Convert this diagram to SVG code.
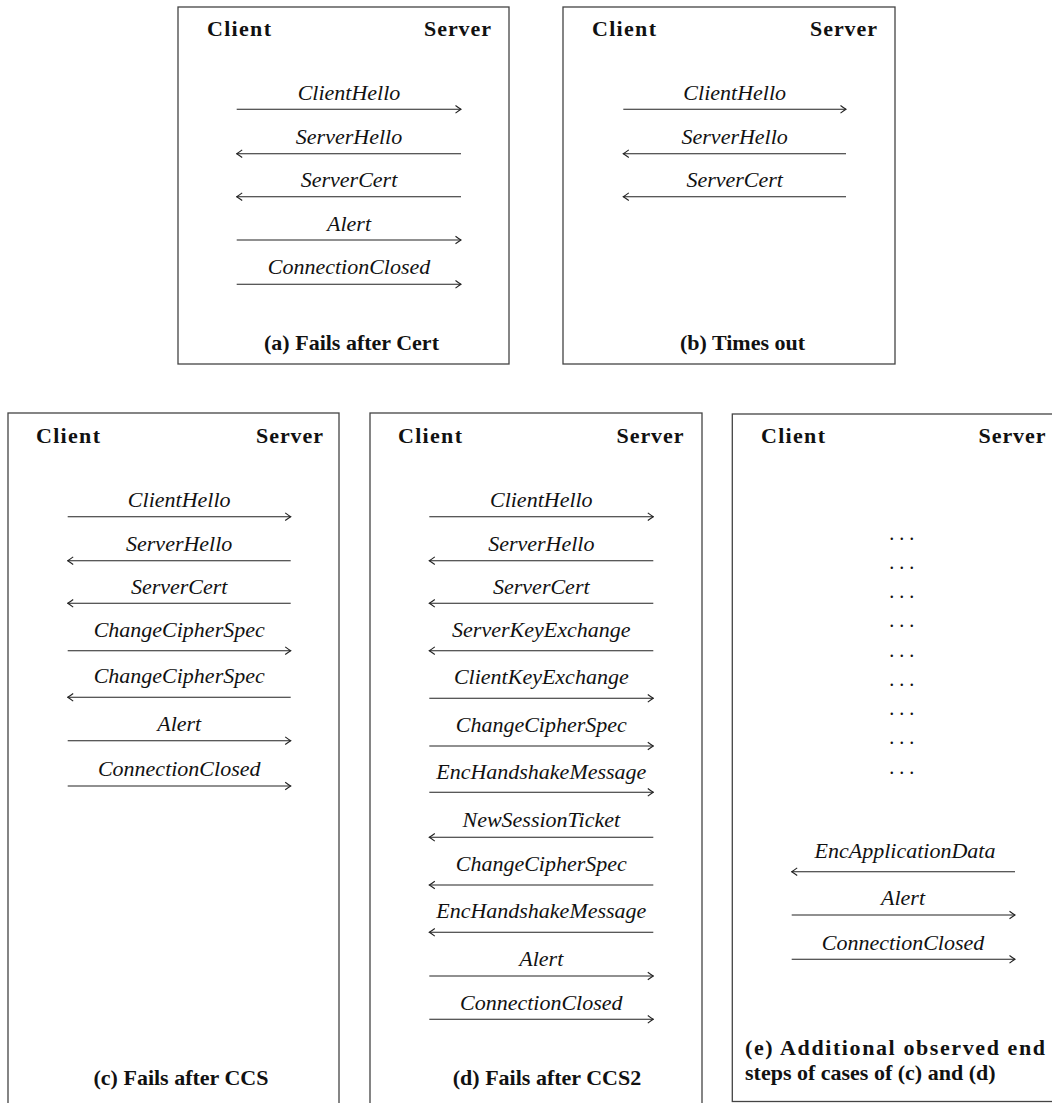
<svg xmlns="http://www.w3.org/2000/svg" width="1052" height="1103" viewBox="0 0 1052 1103">
<style>
text{font-family:'Liberation Serif','Times New Roman','DejaVu Serif',serif}
.box{fill:none;stroke:#444;stroke-width:1.3}
.hd{font-weight:bold;font-size:22px;fill:#111}
.cap{font-weight:bold;font-size:22px;fill:#111;text-anchor:middle}
.capl{font-weight:bold;font-size:22px;fill:#111}
.lbl{font-style:italic;font-size:22px;fill:#111;text-anchor:middle}
.msg{stroke:#222;stroke-width:1.1;fill:none;marker-end:url(#arr)}
.dots{font-size:20px;fill:#111;text-anchor:middle}
</style>
<defs>
<marker id="arr" markerUnits="userSpaceOnUse" viewBox="-7 -5 8 10" refX="0" refY="0" markerWidth="8" markerHeight="10" orient="auto">
<path d="M -5.5 -3.8 Q -1.8 -1 0 0 Q -1.8 1 -5.5 3.8" fill="none" stroke="#222" stroke-width="1.1"/>
</marker>
</defs>
<rect width="1052" height="1103" fill="#fff"/>

<g id="panel-a">
<rect class="box" x="178" y="7" width="331" height="357"/>
<text class="hd" x="207" y="35.5" textLength="64" lengthAdjust="spacing">Client</text>
<text class="hd" x="424" y="35.5" textLength="67" lengthAdjust="spacing">Server</text>
<text class="cap" x="351.5" y="350">(a) Fails after Cert</text>
</g>

<g id="panel-b">
<rect class="box" x="563" y="7" width="332" height="357"/>
<text class="hd" x="592" y="35.5" textLength="64" lengthAdjust="spacing">Client</text>
<text class="hd" x="810" y="35.5" textLength="67" lengthAdjust="spacing">Server</text>
<text class="cap" x="742.5" y="350">(b) Times out</text>
</g>

<g id="panel-c">
<rect class="box" x="8" y="413" width="331" height="720"/>
<text class="hd" x="36" y="443" textLength="64" lengthAdjust="spacing">Client</text>
<text class="hd" x="256" y="443" textLength="67" lengthAdjust="spacing">Server</text>
<text class="cap" x="181" y="1085">(c) Fails after CCS</text>
</g>

<g id="panel-d">
<rect class="box" x="370" y="413" width="332" height="720"/>
<text class="hd" x="398" y="443" textLength="64" lengthAdjust="spacing">Client</text>
<text class="hd" x="616.5" y="443" textLength="67" lengthAdjust="spacing">Server</text>
<text class="cap" x="547" y="1085">(d) Fails after CCS2</text>
</g>

<g id="panel-e">
<rect class="box" x="732.3" y="414" width="340" height="687.5"/>
<text class="hd" x="761" y="443" textLength="64" lengthAdjust="spacing">Client</text>
<text class="hd" x="978.5" y="443" textLength="67" lengthAdjust="spacing">Server</text>
<text class="dots" x="901.7" y="540">. . .</text>
<text class="dots" x="901.7" y="569">. . .</text>
<text class="dots" x="901.7" y="598">. . .</text>
<text class="dots" x="901.7" y="627">. . .</text>
<text class="dots" x="901.7" y="657">. . .</text>
<text class="dots" x="901.7" y="686">. . .</text>
<text class="dots" x="901.7" y="715">. . .</text>
<text class="dots" x="901.7" y="744">. . .</text>
<text class="dots" x="901.7" y="774">. . .</text>
<text class="capl" x="745" y="1055" textLength="300" lengthAdjust="spacing">(e) Additional observed end</text>
<text class="capl" x="745" y="1080">steps of cases of (c) and (d)</text>
</g>

<g id="connectors">
<line class="msg" x1="236.7" y1="109.3" x2="461" y2="109.3"/>
<text class="lbl" x="349" y="100">ClientHello</text>
<line class="msg" x1="461" y1="153.7" x2="236.7" y2="153.7"/>
<text class="lbl" x="349" y="144">ServerHello</text>
<line class="msg" x1="461" y1="196.7" x2="236.7" y2="196.7"/>
<text class="lbl" x="349" y="187.3">ServerCert</text>
<line class="msg" x1="236.7" y1="240" x2="461" y2="240"/>
<text class="lbl" x="349" y="230.7">Alert</text>
<line class="msg" x1="236.7" y1="284.3" x2="461" y2="284.3"/>
<text class="lbl" x="349" y="274">ConnectionClosed</text>
<line class="msg" x1="623.3" y1="109.3" x2="846" y2="109.3"/>
<text class="lbl" x="734.7" y="100">ClientHello</text>
<line class="msg" x1="846" y1="153.7" x2="623.3" y2="153.7"/>
<text class="lbl" x="734.7" y="144">ServerHello</text>
<line class="msg" x1="846" y1="196.7" x2="623.3" y2="196.7"/>
<text class="lbl" x="734.7" y="187.3">ServerCert</text>
<line class="msg" x1="67.7" y1="516.7" x2="290.7" y2="516.7"/>
<text class="lbl" x="179.2" y="507">ClientHello</text>
<line class="msg" x1="290.7" y1="560.7" x2="67.7" y2="560.7"/>
<text class="lbl" x="179.2" y="551">ServerHello</text>
<line class="msg" x1="290.7" y1="603.3" x2="67.7" y2="603.3"/>
<text class="lbl" x="179.2" y="593.7">ServerCert</text>
<line class="msg" x1="67.7" y1="650.7" x2="290.7" y2="650.7"/>
<text class="lbl" x="179.2" y="636.7">ChangeCipherSpec</text>
<line class="msg" x1="290.7" y1="697.3" x2="67.7" y2="697.3"/>
<text class="lbl" x="179.2" y="683.3">ChangeCipherSpec</text>
<line class="msg" x1="67.7" y1="740.7" x2="290.7" y2="740.7"/>
<text class="lbl" x="179.2" y="731">Alert</text>
<line class="msg" x1="67.7" y1="786" x2="290.7" y2="786"/>
<text class="lbl" x="179.2" y="776">ConnectionClosed</text>
<line class="msg" x1="429.3" y1="516.7" x2="653.3" y2="516.7"/>
<text class="lbl" x="541.3" y="507">ClientHello</text>
<line class="msg" x1="653.3" y1="560.7" x2="429.3" y2="560.7"/>
<text class="lbl" x="541.3" y="551">ServerHello</text>
<line class="msg" x1="653.3" y1="603.3" x2="429.3" y2="603.3"/>
<text class="lbl" x="541.3" y="593.7">ServerCert</text>
<line class="msg" x1="653.3" y1="650.7" x2="429.3" y2="650.7"/>
<text class="lbl" x="541.3" y="636.7">ServerKeyExchange</text>
<line class="msg" x1="429.3" y1="698.3" x2="653.3" y2="698.3"/>
<text class="lbl" x="541.3" y="684.3">ClientKeyExchange</text>
<line class="msg" x1="429.3" y1="746" x2="653.3" y2="746"/>
<text class="lbl" x="541.3" y="732">ChangeCipherSpec</text>
<line class="msg" x1="429.3" y1="792.3" x2="653.3" y2="792.3"/>
<text class="lbl" x="541.3" y="779">EncHandshakeMessage</text>
<line class="msg" x1="653.3" y1="837.3" x2="429.3" y2="837.3"/>
<text class="lbl" x="541.3" y="827">NewSessionTicket</text>
<line class="msg" x1="653.3" y1="885" x2="429.3" y2="885"/>
<text class="lbl" x="541.3" y="871">ChangeCipherSpec</text>
<line class="msg" x1="653.3" y1="932.3" x2="429.3" y2="932.3"/>
<text class="lbl" x="541.3" y="918.3">EncHandshakeMessage</text>
<line class="msg" x1="429.3" y1="976" x2="653.3" y2="976"/>
<text class="lbl" x="541.3" y="966.3">Alert</text>
<line class="msg" x1="429.3" y1="1019.3" x2="653.3" y2="1019.3"/>
<text class="lbl" x="541.3" y="1009.7">ConnectionClosed</text>
<line class="msg" x1="1015" y1="871.7" x2="791.7" y2="871.7"/>
<text class="lbl" x="905" y="857.7">EncApplicationData</text>
<line class="msg" x1="791.7" y1="915" x2="1015" y2="915"/>
<text class="lbl" x="903" y="905.3">Alert</text>
<line class="msg" x1="791.7" y1="959.3" x2="1015" y2="959.3"/>
<text class="lbl" x="903" y="949.7">ConnectionClosed</text>
</g>
</svg>
